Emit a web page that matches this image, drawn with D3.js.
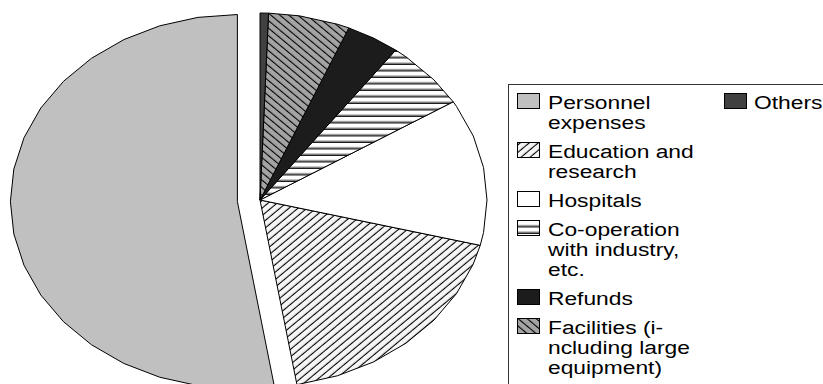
<!DOCTYPE html>
<html lang="en">
<head>
  <meta charset="UTF-8">
  <title>Expenditure breakdown</title>
  <script src="https://d3js.org/d3.v7.min.js"></script>
  <style>
    body { margin: 0; background: #fff; }
    svg { display: block; }
    .slice { stroke: #000; stroke-width: 1; stroke-linejoin: round; }
    .legend-text { font-family: "Liberation Sans", Arial, sans-serif; font-size: 19px; fill: #000; }
  </style>
</head>
<body>
  <svg width="823" height="384"></svg>

  <script>
    // Data (percent shares)
    const categories = ["Personnel expenses", "Education and research", "Hospitals",
      "Co-operation with industry, etc.", "Refunds", "Facilities (including large equipment)", "Others"];
    const values = [52.6, 18.5, 12.7, 6.0, 3.8, 5.8, 0.6];
    const legendLines = [
      ["Personnel", "expenses"],
      ["Education and", "research"],
      ["Hospitals"],
      ["Co-operation", "with industry,", "etc."],
      ["Refunds"],
      ["Facilities (i-", "ncluding large", "equipment)"],
      ["Others"]
    ];
    const fills = ["#c0c0c0", "url(#diagUp)", "#ffffff", "url(#horiz)", "#1c1c1c", "url(#diagDown)", "#404040"];

    const svg = d3.select("svg");
    const defs = svg.append("defs");

    // hatch patterns
    function hatch(id, bg, rotate, gap) {
      const p = defs.append("pattern")
        .attr("id", id)
        .attr("patternUnits", "userSpaceOnUse")
        .attr("width", 10).attr("height", gap)
        .attr("patternTransform", `scale(1.2,1) rotate(${rotate})`);
      p.append("rect").attr("width", 10).attr("height", gap).attr("fill", bg);
      p.append("rect").attr("y", gap - 1).attr("width", 10).attr("height", 1).attr("fill", "#000");
    }
    hatch("diagUp", "#f6f6f6", -45, 5.3);
    hatch("diagDown", "#a4a4a4", 45, 5.3);
    const hp = defs.append("pattern")
      .attr("id", "horiz")
      .attr("patternUnits", "userSpaceOnUse")
      .attr("width", 10).attr("height", 6.5);
    hp.append("rect").attr("width", 10).attr("height", 6.5).attr("fill", "#fff");
    hp.append("rect").attr("y", 4).attr("width", 10).attr("height", 1.2).attr("fill", "#999");
    hp.append("rect").attr("y", 5.2).attr("width", 10).attr("height", 1.2).attr("fill", "#000");

    // ellipse-shaped pie
    const cx = 260, cy = 200, rx = 227, ry = 187;
    const step = Math.PI / 18; // arc drawn as 10 degree segments
    const explode = [0.1, 0, 0, 0, 0, 0, 0];

    const pie = d3.pie().sort(null).startAngle(0).endAngle(-2 * Math.PI);
    const arcs = pie(values);

    function slicePoints(d, i) {
      const mid = (d.startAngle + d.endAngle) / 2;
      const ox = cx + rx * explode[i] * Math.sin(mid);
      const oy = cy - ry * explode[i] * Math.cos(mid);
      const pt = a => [ox + rx * Math.sin(a), oy - ry * Math.cos(a)];
      const pts = [[ox, oy], pt(d.startAngle)];
      const lo = Math.min(d.startAngle, d.endAngle), hi = Math.max(d.startAngle, d.endAngle);
      const inner = [];
      for (let k = Math.ceil(lo / step + 1e-6); k * step < hi - 1e-6; k++) inner.push(k * step);
      if (d.startAngle > d.endAngle) inner.reverse();
      inner.forEach(a => pts.push(pt(a)));
      pts.push(pt(d.endAngle));
      return pts;
    }

    const line = d3.line().curve(d3.curveLinearClosed);

    svg.append("g").selectAll("path")
      .data(arcs)
      .join("path")
      .attr("class", "slice")
      .attr("d", (d, i) => line(slicePoints(d, i)))
      .attr("fill", (d, i) => fills[i]);

    // legend
    const lg = svg.append("g");
    lg.append("rect")
      .attr("x", 508.5).attr("y", 84.5)
      .attr("width", 400).attr("height", 400)
      .attr("fill", "#fff").attr("stroke", "#333");

    const lineH = 20, itemGap = 9;
    let y = 109;
    const pos = [];
    legendLines.forEach((lines, i) => {
      if (i === legendLines.length - 1) { pos.push({x: 724, tx: 754, y: 109}); return; }
      pos.push({x: 517, tx: 548, y: y});
      y += lines.length * lineH + itemGap;
    });

    const item = lg.selectAll("g.item")
      .data(legendLines)
      .join("g")
      .attr("class", "item");

    item.append("rect")
      .attr("x", (d, i) => pos[i].x + 0.5)
      .attr("y", (d, i) => pos[i].y - 15.5)
      .attr("width", 22).attr("height", 15)
      .attr("fill", (d, i) => fills[i])
      .attr("stroke", "#000");

    item.each(function(lines, i) {
      d3.select(this).selectAll("text")
        .data(lines)
        .join("text")
        .attr("class", "legend-text")
        .attr("transform", (t, j) => `translate(${pos[i].tx},${pos[i].y + j * lineH}) scale(1.2,1)`)
        .text(t => t);
    });
  </script>
</body>
</html>
